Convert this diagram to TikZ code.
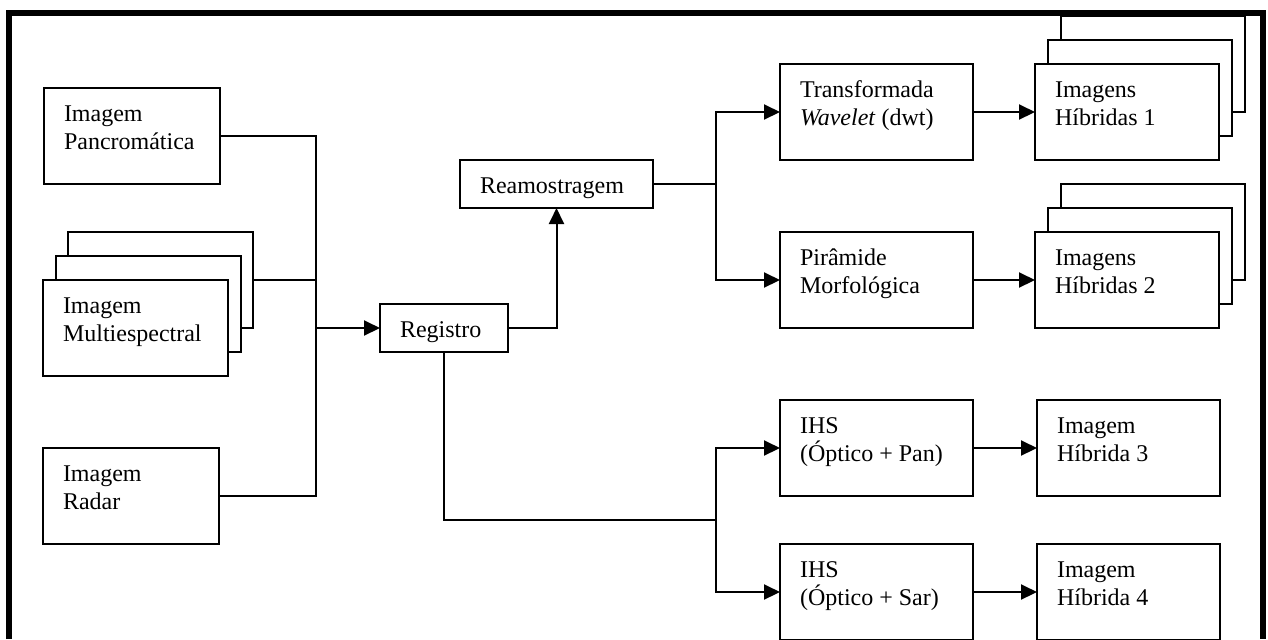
\documentclass[tikz,border=0pt]{standalone}
\usepackage{fontspec}
\setmainfont{Liberation Serif}
\usetikzlibrary{arrows.meta}
\begin{document}
\begin{tikzpicture}[x=0.5pt,y=-0.5pt,line width=1pt,font=\fontsize{12}{14}\selectfont]
    \tikzstyle{blk}=[draw,fill=white,rectangle,anchor=north west,align=flush left,
      inner xsep=10pt,inner ysep=0pt,outer sep=0pt,text height=16.5pt]
    \tikzstyle{tall}=[blk,text depth=31.5pt]
    \tikzstyle{low}=[blk,text depth=7.5pt]
    \tikzstyle{flow}=[-{Triangle[length=8pt,width=7.5pt]}]

    \useasboundingbox (0,0) rectangle (1268,639);

    % input images
    \node[tall,text width=68pt] (pan) at (44,88) {Imagem\\Pancromática};
    \foreach \k in {2,1}
    \node[tall,text width=72.5pt] (multi-\k) at (43+12.5*\k,280-24*\k) {};
    \node[tall,text width=72.5pt] (multi) at (43,280) {Imagem\\Multiespectral};
    \node[tall,text width=68pt] (radar) at (43,448) {Imagem\\Radar};

    % pre-processing
    \node[low,text width=44pt] (reg) at (380,304) {Registro};
    \node[low,text width=76.5pt] (ream) at (460,160) {Reamostragem};

    % fusion methods
    \node[tall,text width=76.5pt] (dwt) at (780,64) {Transformada\\\textit{Wavelet} (dwt)};
    \node[tall,text width=76.5pt] (pir) at (780,232) {Pirâmide\\Morfológica};
    \node[tall,text width=76.5pt] (ihsp) at (780,400) {IHS\\(Óptico + Pan)};
    \node[tall,text width=76.5pt] (ihss) at (780,544) {IHS\\(Óptico + Sar)};

    % hybrid images
    \foreach \k in {2,1} {
    \node[tall,text width=72pt] (hib1-\k) at (1035+13*\k,64-24*\k) {};
    \node[tall,text width=72pt] (hib2-\k) at (1035+13*\k,232-24*\k) {};
    }
    \node[tall,text width=72pt] (hib1) at (1035,64) {Imagens\\Híbridas 1};
    \node[tall,text width=72pt] (hib2) at (1035,232) {Imagens\\Híbridas 2};
    \node[tall,text width=71.5pt] (hib3) at (1037,400) {Imagem\\Híbrida 3};
    \node[tall,text width=71.5pt] (hib4) at (1037,544) {Imagem\\Híbrida 4};

    % junction points
    \coordinate (join) at (316,328);
    \coordinate (fork-a) at (716,184);
    \coordinate (fork-b) at (716,520);

    % inputs into the registration
    \draw (pan.east) -| (join);
    \draw (radar.east) -| (join);
    \draw (multi-2.east) -- (multi-2.east -| join);
    \draw[flow] (join) -- (reg.west);
    \draw[flow] (reg.east) -| (ream.south);

    % split towards the fusion methods
    \draw (ream.east) -- (fork-a);
    \draw[flow] (fork-a) |- (dwt.west);
    \draw[flow] (fork-a) |- (pir.west);
    \draw (reg.south) |- (fork-b);
    \draw[flow] (fork-b) |- (ihsp.west);
    \draw[flow] (fork-b) |- (ihss.west);

    \foreach \src/\dst in {dwt/hib1,pir/hib2,ihsp/hib3,ihss/hib4}
    \draw[flow] (\src.east) -- (\dst.west);

    % outer frame
    \draw[line width=3pt] (9,639) -- (9,13) -- (1263,13) -- (1263,639);
  \end{tikzpicture}
\end{document}
